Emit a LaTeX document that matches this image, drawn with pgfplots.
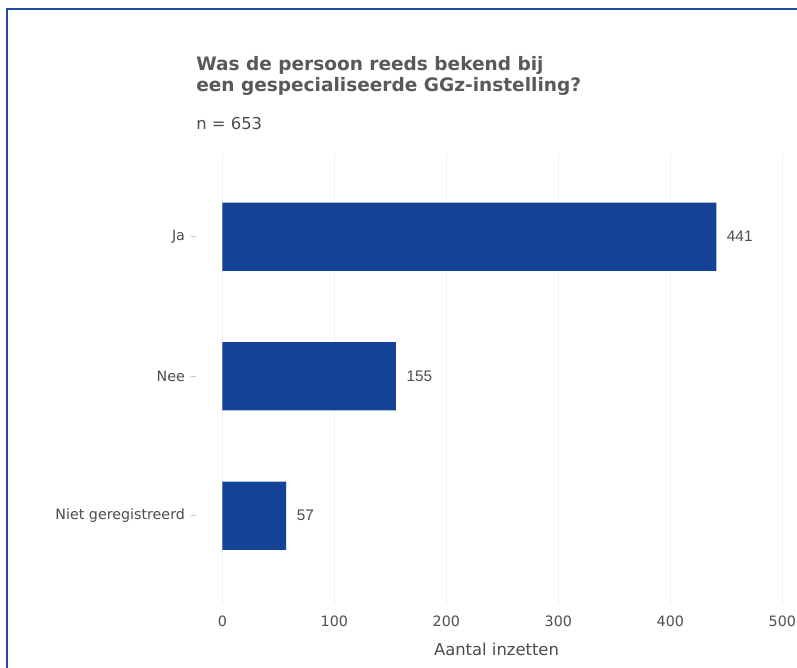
\documentclass[border=0pt]{standalone}
\usepackage{fontspec}
\setmainfont{DejaVu Sans}
\newfontfamily\arialfont{Liberation Sans}
\usepackage{pgfplots}
\pgfplotsset{compat=1.18}
\definecolor{barblue}{RGB}{19,66,150}
\definecolor{frameblue}{RGB}{32,76,166}
\definecolor{titlegrey}{RGB}{89,89,89}
\definecolor{labgrey}{RGB}{77,77,77}
\begin{document}
\begin{tikzpicture}
\path[use as bounding box, fill=white] (0,0) rectangle ({797*0.75pt},{-668*0.75pt});
\draw[frameblue, line width=1.5pt] ({7*0.75pt},{-668*0.75pt}) -- ({7*0.75pt},{-9*0.75pt}) -- ({797*0.75pt},{-9*0.75pt});
\node[anchor=north west, inner sep=0pt, align=left, text=titlegrey, font=\bfseries\fontsize{13.9pt}{16.2pt}\selectfont] at ({196*0.75pt},{-56*0.75pt}) {Was de persoon reeds bekend bij\\een gespecialiseerde GGz-instelling?};
\node[anchor=west, inner sep=0pt, text=labgrey, font=\fontsize{12.3pt}{14pt}\selectfont] at ({196*0.75pt},{-124*0.75pt}) {n = 653};
\begin{axis}[
  at={({196*0.75pt},{-605*0.75pt})}, anchor=south west,
  scale only axis, width={601*0.75pt}, height={452*0.75pt},
  xbar, bar width=0.49,
  xmin=-23.5, xmax=513.1, ymin=-0.64, ymax=2.6,
  axis line style={draw=none},
  xtick={0,100,200,300,400,500},
  ytick={0,1,2}, yticklabels={Niet geregistreerd, Nee, Ja},
  xmajorgrids, major grid style={gray!12, line width=0.5pt},
  xtick style={draw=none},
  ytick style={draw=gray!45, line width=0.5pt},
  tick align=outside, major tick length={5*0.75pt},
  /pgf/number format/assume math mode=true,
  ticklabel style={text=labgrey, font=\fontsize{10.7pt}{12pt}\selectfont},
  xticklabel style={yshift=-1pt},
  yticklabel style={xshift=-1pt},
  xlabel={Aantal inzetten},
  xlabel style={text=labgrey, font=\fontsize{12.3pt}{14pt}\selectfont, yshift={-7*0.75pt}},
  nodes near coords, point meta=x,
  every node near coord/.append style={anchor=west, xshift={6*0.75pt}, text=labgrey, font=\arialfont\fontsize{11.5pt}{13pt}\selectfont},
  clip=false,
]
\addplot[fill=barblue, draw=none] coordinates {(57,0) (155,1) (441,2)};
\end{axis}
\end{tikzpicture}
\end{document}
